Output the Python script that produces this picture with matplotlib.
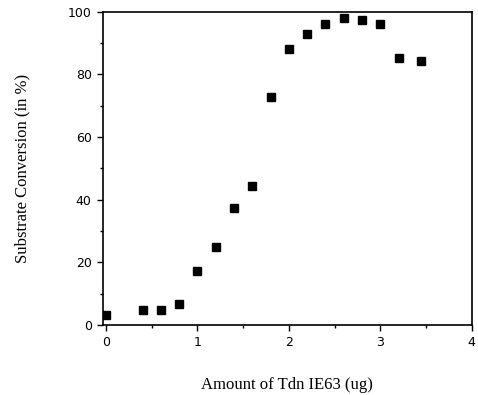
import matplotlib
matplotlib.use('Agg')
import matplotlib.pyplot as plt
from matplotlib.ticker import MultipleLocator

# amount of Tdn IE63 (ug) vs substrate conversion (%)
amount = [0, 0.4, 0.6, 0.8, 1.0, 1.2, 1.4, 1.6, 1.8, 2.0, 2.2, 2.4, 2.6, 2.8, 3.0, 3.2, 3.45]
conversion = [3.2, 4.8, 4.8, 6.7, 17.4, 25.0, 37.5, 44.4, 72.7, 88.2, 93.0, 96.1, 98.0, 97.3, 96.2, 85.4, 84.4]

fig = plt.figure(figsize=(4.78, 3.95), dpi=100)
ax = fig.add_axes([0.215, 0.177, 0.772, 0.793])

ax.plot(amount, conversion, 's', color='black', markersize=5.5, zorder=3)

ax.set_xlim(-0.035, 4.0)
ax.set_ylim(0, 100)
ax.xaxis.set_major_locator(MultipleLocator(1))
ax.xaxis.set_minor_locator(MultipleLocator(0.5))
ax.yaxis.set_major_locator(MultipleLocator(20))
ax.yaxis.set_minor_locator(MultipleLocator(10))
ax.tick_params(which='major', direction='out', length=4, width=1, labelsize=9, pad=4)
ax.tick_params(which='minor', direction='out', length=2, width=1)

for s in ax.spines.values():
    s.set_linewidth(1.2)

serif = {'family': 'Liberation Serif', 'size': 12}
ax.set_xlabel('Amount of Tdn IE63 (ug)', fontdict=serif, labelpad=20)
ax.set_ylabel('Substrate Conversion (in %)', fontdict=serif, labelpad=27)

fig.savefig('out.png', dpi=100)
